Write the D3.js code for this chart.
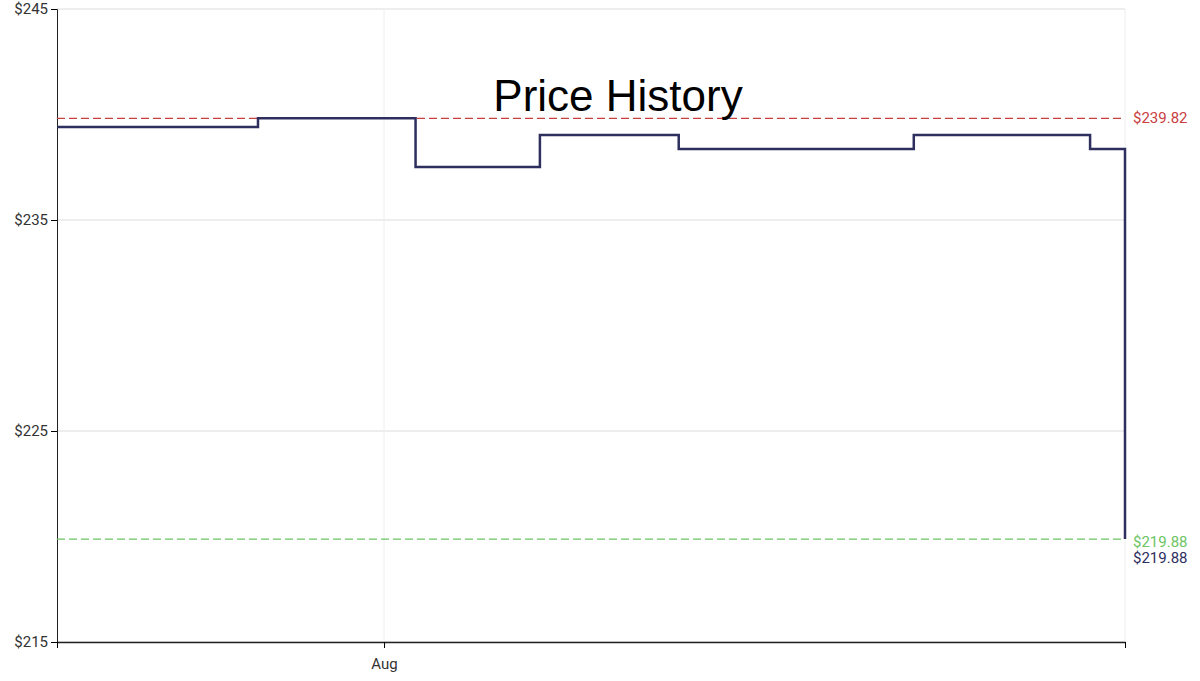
<!DOCTYPE html>
<html><head><meta charset="utf-8">
<script src="https://cdn.jsdelivr.net/npm/d3@7"></script>
<style>body{margin:0;background:#fff}text{font-family:Roboto,sans-serif}</style>
</head><body><svg id="c" width="1200" height="681"></svg>
<script>
const dates = ["2024-07-16T00:00","2024-07-25T20:00","2024-08-02T13:00","2024-08-08T15:00","2024-08-15T10:00","2024-08-26T22:00","2024-09-04T13:00","2024-09-06T06:00"];
const prices = [239.41,239.82,237.51,239.03,238.37,239.03,238.37,219.88];
const yTicks = [215,225,235,245];
const xTickLabels = ["Aug"];
const xTickDates = ["2024-08-01T00:00"];
const highPrice = 239.82, lowPrice = 219.88, lastPrice = 219.88;

const svg = d3.select("#c");
const L=57,R=1125,T=9,B=642;
const x = d3.scaleTime().domain([new Date(dates[0]), new Date(dates[dates.length-1])]).range([L,R]);
const y = d3.scaleLinear().domain([215,245]).range([B,T]);
const data = dates.map((d,i)=>({d:new Date(d),p:prices[i]}));

// grid
svg.append("g").selectAll("line").data(yTicks).join("line")
 .attr("x1",L).attr("x2",R).attr("y1",d=>y(d)).attr("y2",d=>y(d)).attr("stroke","#dcdcdc");
svg.append("g").selectAll("line").data(xTickDates.concat([dates[dates.length-1]])).join("line")
 .attr("x1",d=>x(new Date(d))).attr("x2",d=>x(new Date(d))).attr("y1",T).attr("y2",B).attr("stroke","#eeeeee");

// axes
const ya = svg.append("g").attr("transform",`translate(${L},0)`)
 .call(d3.axisLeft(y).tickValues(yTicks).tickFormat(d=>"$"+d).tickSize(6).tickPadding(3));
ya.select(".domain").attr("stroke","#222");
ya.selectAll("text").attr("font-size",15).attr("fill","#333");
const xa = svg.append("g").attr("transform",`translate(0,${B})`)
 .call(d3.axisBottom(x).tickValues(xTickDates.map(d=>new Date(d)).concat([new Date(dates[0]),new Date(dates[dates.length-1])]))
 .tickFormat(d=>{const i=xTickDates.findIndex(t=>+new Date(t)===+d);return i>=0?xTickLabels[i]:"";}).tickSize(6).tickPadding(10).tickSizeOuter(0));
xa.select(".domain").attr("stroke","#222").attr("stroke-width",1.5);
xa.selectAll("text").attr("font-size",15).attr("fill","#333");

// reference lines
svg.append("line").attr("x1",L).attr("x2",R).attr("y1",y(highPrice)).attr("y2",y(highPrice))
 .attr("stroke","#c9403f").attr("stroke-dasharray","8,4").attr("stroke-width",1.2);
svg.append("line").attr("x1",L).attr("x2",R).attr("y1",y(lowPrice)).attr("y2",y(lowPrice))
 .attr("stroke","#6cc463").attr("stroke-dasharray","8,4").attr("stroke-width",1.2);

// step line
svg.append("path").datum(data).attr("fill","none").attr("stroke","#2e2f5e").attr("stroke-width",2.5)
 .attr("d",d3.line().x(d=>x(d.d)).y(d=>y(d.p)).curve(d3.curveStepAfter));

// right labels
svg.append("text").attr("x",R+8).attr("y",y(highPrice)+5).attr("font-size",15).attr("fill","#c9403f").text("$"+highPrice.toFixed(2));
svg.append("text").attr("x",R+8).attr("y",y(lowPrice)+8).attr("font-size",15).attr("fill","#6cc463").text("$"+lowPrice.toFixed(2));
svg.append("text").attr("x",R+8).attr("y",y(lastPrice)+24).attr("font-size",15).attr("fill","#2e2f5e").text("$"+lastPrice.toFixed(2));

// title
svg.append("text").attr("x",618).attr("y",111).attr("text-anchor","middle").attr("font-size",44)
 .attr("font-family","Liberation Sans, Arial, sans-serif").style("font-family","Liberation Sans, Arial, sans-serif").attr("fill","#000").text("Price History");
</script></body></html>
